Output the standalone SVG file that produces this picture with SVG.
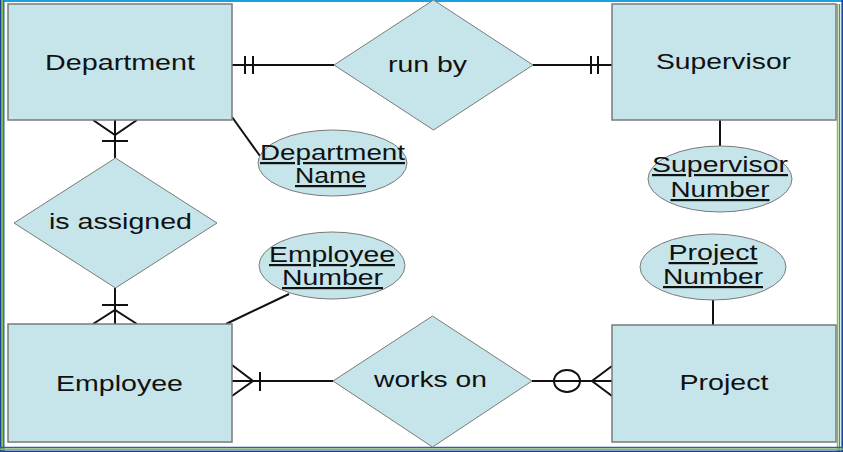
<svg xmlns="http://www.w3.org/2000/svg" width="843" height="452" viewBox="0 0 843 452">
<style>
.ent{fill:#c6e5ea;stroke:#7a7a7a;stroke-width:1.5}
.rel{fill:#c6e5ea;stroke:#7a7a7a;stroke-width:1}
.att{fill:#c6e5ea;stroke:#7a7a7a;stroke-width:1}
.lbl{font-family:"Liberation Sans",Arial,sans-serif;font-size:22px;fill:#111;text-anchor:middle}
.key{text-decoration:underline}
.ln{stroke:#111;stroke-width:2;fill:none}
</style>
<rect x="0" y="0" width="843" height="452" fill="#ffffff"/>
<g id="frame" fill="none">
<line x1="4" y1="1" x2="843" y2="1" stroke="#1ba1e2" stroke-width="2"/>
<line x1="0.8" y1="0" x2="0.8" y2="452" stroke="#1f3f9f" stroke-width="1.6"/>
<line x1="2.4" y1="0" x2="2.4" y2="452" stroke="#7dc242" stroke-width="1.2"/>
<line x1="3.8" y1="0" x2="3.8" y2="452" stroke="#2a5cc0" stroke-width="1.4"/>
<line x1="837.6" y1="4" x2="837.6" y2="452" stroke="#7dc242" stroke-width="1.6"/>
<line x1="839.6" y1="4" x2="839.6" y2="452" stroke="#2a8fd0" stroke-width="1.2"/>
<line x1="842.2" y1="0" x2="842.2" y2="452" stroke="#1f3f9f" stroke-width="1.6"/>
<line x1="0" y1="447.5" x2="843" y2="447.5" stroke="#2a5cc0" stroke-width="1.4"/>
<line x1="0" y1="449.2" x2="843" y2="449.2" stroke="#7dc242" stroke-width="1.6"/>
<line x1="0" y1="451.2" x2="843" y2="451.2" stroke="#1f3f9f" stroke-width="1.6"/>
</g>
<g id="connectors">
<line class="ln" x1="232" y1="65" x2="334" y2="65"/>
<line class="ln" x1="245" y1="56" x2="245" y2="74"/>
<line class="ln" x1="253" y1="56" x2="253" y2="74"/>
<line class="ln" x1="533" y1="65" x2="612" y2="65"/>
<line class="ln" x1="591" y1="56" x2="591" y2="74"/>
<line class="ln" x1="598" y1="56" x2="598" y2="74"/>
<line class="ln" x1="720" y1="120" x2="720" y2="146"/>
<line class="ln" x1="232" y1="117" x2="260" y2="156"/>
<line class="ln" x1="115" y1="120" x2="115" y2="158"/>
<polyline class="ln" points="93,120 115,135 137,120"/>
<line class="ln" x1="102" y1="141" x2="128" y2="141"/>
<line class="ln" x1="115" y1="288" x2="115" y2="324"/>
<line class="ln" x1="102" y1="305" x2="128" y2="305"/>
<polyline class="ln" points="93,324 115,310 137,324"/>
<line class="ln" x1="226" y1="324" x2="289" y2="294"/>
<line class="ln" x1="232" y1="381" x2="333" y2="381"/>
<polyline class="ln" points="232,365 253,381 232,396"/>
<line class="ln" x1="260" y1="372" x2="260" y2="391"/>
<line class="ln" x1="532" y1="381" x2="612" y2="381"/>
<ellipse class="ln" cx="567" cy="381" rx="13" ry="11"/>
<polyline class="ln" points="612,366 592,381 612,396"/>
<line class="ln" x1="713" y1="300" x2="713" y2="325"/>
</g>
<g id="department">
<rect class="ent" x="8" y="4" width="224" height="116"/>
<text class="lbl" x="120" y="70" textLength="150" lengthAdjust="spacingAndGlyphs">Department</text>
</g>
<g id="run-by">
<polygon class="rel" points="334,65 433.5,0 533,65 433.5,130"/>
<text class="lbl" x="427.5" y="72" textLength="79" lengthAdjust="spacingAndGlyphs">run by</text>
</g>
<g id="supervisor">
<rect class="ent" x="612" y="4" width="224" height="116"/>
<text class="lbl" x="723.5" y="69" textLength="135" lengthAdjust="spacingAndGlyphs">Supervisor</text>
</g>
<g id="supervisor-number">
<ellipse class="att" cx="720" cy="179" rx="72" ry="33"/>
<text class="lbl key" x="720" y="172" textLength="136" lengthAdjust="spacingAndGlyphs">Supervisor</text>
<text class="lbl key" x="720" y="197" textLength="99" lengthAdjust="spacingAndGlyphs">Number</text>
</g>
<g id="department-name">
<ellipse class="att" cx="332.5" cy="163" rx="74.5" ry="33"/>
<text class="lbl key" x="332.5" y="160" textLength="145" lengthAdjust="spacingAndGlyphs">Department</text>
<text class="lbl key" x="330.5" y="183" textLength="71" lengthAdjust="spacingAndGlyphs">Name</text>
</g>
<g id="is-assigned">
<polygon class="rel" points="14,223 115.5,158 217,223 115.5,288"/>
<text class="lbl" x="120.5" y="229" textLength="143" lengthAdjust="spacingAndGlyphs">is assigned</text>
</g>
<g id="employee-number">
<ellipse class="att" cx="332" cy="265.5" rx="73" ry="33.5"/>
<text class="lbl key" x="332" y="262" textLength="126" lengthAdjust="spacingAndGlyphs">Employee</text>
<text class="lbl key" x="332.5" y="285" textLength="101" lengthAdjust="spacingAndGlyphs">Number</text>
</g>
<g id="project-number">
<ellipse class="att" cx="713" cy="267" rx="73" ry="33"/>
<text class="lbl key" x="713" y="260" textLength="89" lengthAdjust="spacingAndGlyphs">Project</text>
<text class="lbl key" x="713" y="284" textLength="100" lengthAdjust="spacingAndGlyphs">Number</text>
</g>
<g id="employee">
<rect class="ent" x="8" y="324" width="224" height="118"/>
<text class="lbl" x="119.5" y="391" textLength="127" lengthAdjust="spacingAndGlyphs">Employee</text>
</g>
<g id="works-on">
<polygon class="rel" points="333,381 432.5,316 532,381 432.5,447"/>
<text class="lbl" x="430.5" y="387" textLength="113" lengthAdjust="spacingAndGlyphs">works on</text>
</g>
<g id="project">
<rect class="ent" x="612" y="325" width="224" height="117"/>
<text class="lbl" x="724" y="390" textLength="89" lengthAdjust="spacingAndGlyphs">Project</text>
</g>
</svg>
